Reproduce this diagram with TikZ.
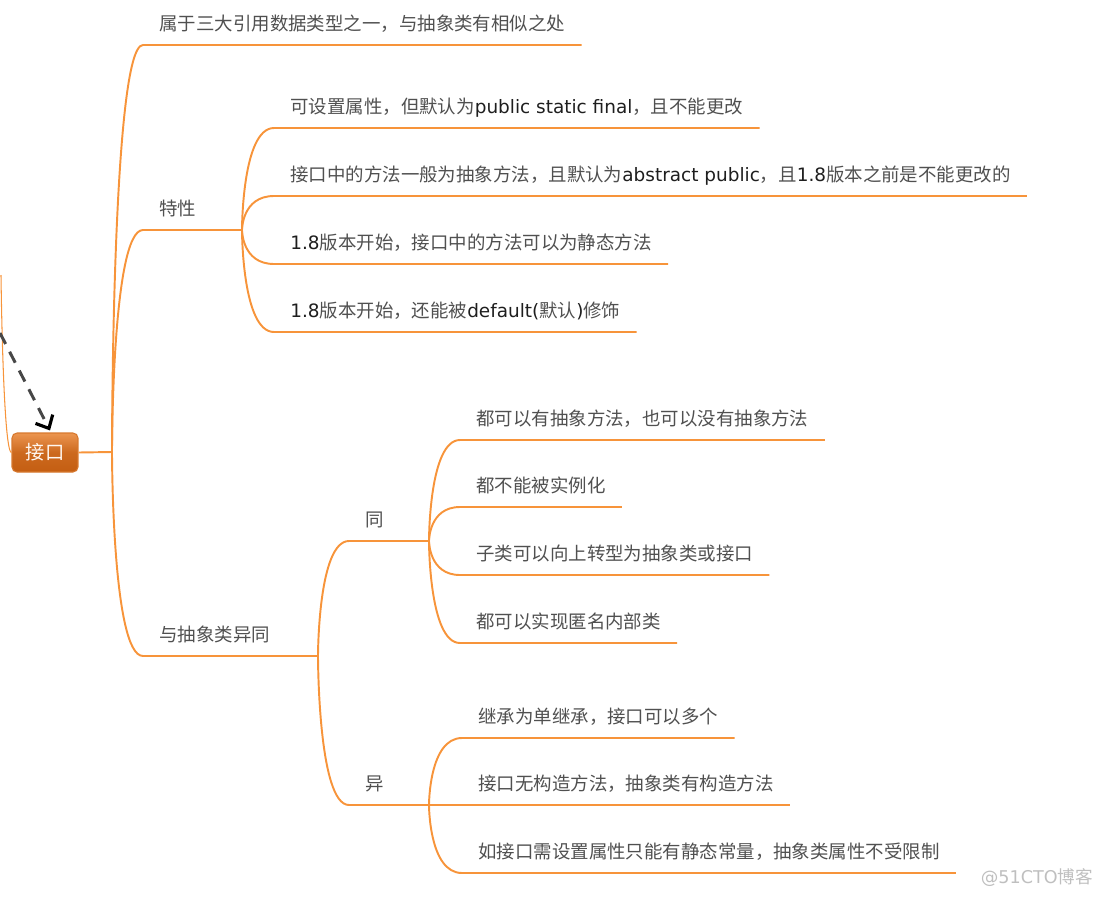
\documentclass[tikz,border=0pt]{standalone}
\usepackage{fontspec}
\usepackage{xcolor}
\usepackage{tikz}
\usetikzlibrary{arrows.meta}
\setmainfont{Noto Sans CJK SC}
\newfontfamily\latfont{DejaVu Sans}
\definecolor{branchorange}{HTML}{F7943A}
\definecolor{cjkgray}{HTML}{505050}
\definecolor{latink}{HTML}{1E1E1E}
\definecolor{roottop}{HTML}{EC9550}
\definecolor{rootbottom}{HTML}{C45E12}
\definecolor{rootedge}{HTML}{D7782E}
\newcommand{\lat}[1]{{\latfont\color{latink}#1}}

\begin{document}
\begin{tikzpicture}[x=0.02cm, y=-0.02cm, font=\fontsize{10.5}{12}\selectfont,
	branch/.style={draw=branchorange, line width=1.1pt},
	topic/.style={anchor=south west, inner xsep=0.32cm, inner ysep=0.28cm, text depth=0pt, text=cjkgray},
	rootbox/.style={rounded corners=0.1cm, minimum width=1.32cm, minimum height=0.78cm, top color=roottop, bottom color=rootbottom, middle color=rootbottom!80!roottop, draw=rootedge, line width=0.6pt, text=orange!6!white, font=\fontsize{11}{13}\selectfont},
	linkarrow/.style={draw=black!72, line width=1.7pt, dash pattern=on 7pt off 5pt, -{Straight Barb[length=6pt, width=11pt, line width=1.8pt, color=black]}}]
	\useasboundingbox (0,0) rectangle (1108,896);
	
	\node[rootbox] (root) at (45,452.5) {接口};
	\coordinate (jR) at (112,452);
	\coordinate (jT) at (242,230);
	\coordinate (jD) at (318,656);
	\coordinate (jS) at (429,541);
	\coordinate (jY) at (429,805);
	\coordinate (src) at (0,333);
	\coordinate (upper) at (1,275);
	
	\draw[draw=branchorange, line width=0.6pt] (upper) .. controls (1,275) and (3,452) .. (root.west);
	\draw[linkarrow] (src) -- ([xshift=0.1cm, yshift=0.04cm]root.north);
	
	\node[topic] (b1) at (143,45) {属于三大引用数据类型之一，与抽象类有相似之处};
	\node[topic] (b2) at (143,230) {特性};
	\node[topic] (b3) at (143,656) {与抽象类异同};
	
	\node[topic] (t1) at (274,128) {可设置属性，但默认为\lat{public static final}，且不能更改};
	\node[topic] (t2) at (274,196) {接口中的方法一般为抽象方法，且默认为\lat{abstract public}，且\lat{1.8}版本之前是不能更改的};
	\node[topic] (t3) at (274,264) {\lat{1.8}版本开始，接口中的方法可以为静态方法};
	\node[topic] (t4) at (274,332) {\lat{1.8}版本开始，还能被\lat{default(}默认\lat{)}修饰};
	
	\node[topic] (d1) at (349,541) {同};
	\node[topic] (d2) at (349,805) {异};
	
	\node[topic] (s1) at (460,440) {都可以有抽象方法，也可以没有抽象方法};
	\node[topic] (s2) at (460,507) {都不能被实例化};
	\node[topic] (s3) at (460,575) {子类可以向上转型为抽象类或接口};
	\node[topic] (s4) at (460,643) {都可以实现匿名内部类};
	
	\node[topic] (y1) at (462,738) {继承为单继承，接口可以多个};
	\node[topic] (y2) at (462,805) {接口无构造方法，抽象类有构造方法};
	\node[topic] (y3) at (462,873) {如接口需设置属性只能有静态常量，抽象类属性不受限制};
	
	\node[anchor=east, text=black!25, font=\fontsize{10}{12}\selectfont] (mark) at (1099,878) {\latfont @51CTO\normalfont 博客};
	
	\draw[branch] (root.east) -- (jR);
	\draw[branch] (jR) .. controls (jR) and (jR |- b1.south west) .. (b1.south west) -- (b1.south east);
	\draw[branch] (jR) .. controls (jR) and (jR |- b2.south west) .. (b2.south west) -- (jT);
	\draw[branch] (jR) .. controls (jR) and (jR |- b3.south west) .. (b3.south west) -- (jD);
	
	\draw[branch] (jT) .. controls (jT) and (jT |- t1.south west) .. (t1.south west) -- (t1.south east);
	\draw[branch] (jT) .. controls (jT) and (jT |- t2.south west) .. (t2.south west) -- (t2.south east);
	\draw[branch] (jT) .. controls (jT) and (jT |- t3.south west) .. (t3.south west) -- (t3.south east);
	\draw[branch] (jT) .. controls (jT) and (jT |- t4.south west) .. (t4.south west) -- (t4.south east);
	
	\draw[branch] (jD) .. controls (jD) and (jD |- d1.south west) .. (d1.south west) -- (jS);
	\draw[branch] (jD) .. controls (jD) and (jD |- d2.south west) .. (d2.south west) -- (jY);
	
	\draw[branch] (jS) .. controls (jS) and (jS |- s1.south west) .. (s1.south west) -- (s1.south east);
	\draw[branch] (jS) .. controls (jS) and (jS |- s2.south west) .. (s2.south west) -- (s2.south east);
	\draw[branch] (jS) .. controls (jS) and (jS |- s3.south west) .. (s3.south west) -- (s3.south east);
	\draw[branch] (jS) .. controls (jS) and (jS |- s4.south west) .. (s4.south west) -- (s4.south east);
	
	\draw[branch] (jY) .. controls (jY) and (jY |- y1.south west) .. (y1.south west) -- (y1.south east);
	\draw[branch] (jY) -- (y2.south west) -- (y2.south east);
	\draw[branch] (jY) .. controls (jY) and (jY |- y3.south west) .. (y3.south west) -- (y3.south east);
\end{tikzpicture}
\end{document}
